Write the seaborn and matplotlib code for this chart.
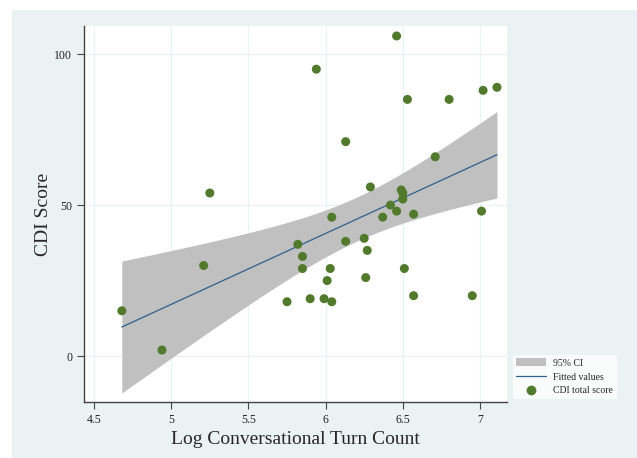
import numpy as np
import pandas as pd
import matplotlib
matplotlib.use("Agg")
import matplotlib.pyplot as plt
from matplotlib.patches import Rectangle, Patch
from matplotlib.lines import Line2D
import seaborn as sns

# data
log_turns = [4.68, 4.94, 5.21, 5.25, 5.75, 5.82, 5.85, 5.85, 5.90, 5.94,
             5.99, 6.01, 6.03, 6.04, 6.04, 6.13, 6.13, 6.25, 6.26, 6.27,
             6.29, 6.37, 6.42, 6.46, 6.46, 6.49, 6.50, 6.50, 6.51, 6.53,
             6.57, 6.57, 6.71, 6.80, 6.95, 7.01, 7.02, 7.11]
cdi_score = [15, 2, 30, 54, 18, 37, 33, 29, 19, 95,
             19, 25, 29, 18, 46, 71, 38, 39, 26, 35,
             56, 46, 50, 48, 106, 55, 54, 52, 29, 85,
             47, 20, 66, 85, 20, 48, 88, 89]
x_ticks = [4.5, 5, 5.5, 6, 6.5, 7]
x_tick_labels = ["4.5", "5", "5.5", "6", "6.5", "7"]
y_ticks = [0, 50, 100]

df = pd.DataFrame({"turns": log_turns, "cdi": cdi_score})

# linear fit with analytic 95% CI of the mean (like Stata lfitci)
x = df["turns"].values
y = df["cdi"].values
n = len(x)
b1, b0 = np.polyfit(x, y, 1)
resid = y - (b0 + b1 * x)
s = np.sqrt(np.sum(resid ** 2) / (n - 2))
xs = np.linspace(x.min(), x.max(), 200)
fit = b0 + b1 * xs
se = s * np.sqrt(1 / n + (xs - x.mean()) ** 2 / np.sum((x - x.mean()) ** 2))
t = 2.028  # t(0.975, 36)
lo, hi = fit - t * se, fit + t * se

sns.set_style("white")
plt.rcParams["font.family"] = ["Liberation Serif", "DejaVu Serif"]

bg = "#EAF2F3"
fig = plt.figure(figsize=(6.37, 4.58), dpi=100)
fig.patches.append(Rectangle((12 / 637, 0), 1 - 12 / 637, 1 - 10 / 458,
                             transform=fig.transFigure, facecolor=bg,
                             edgecolor="none", zorder=-10))
ax = fig.add_axes([84 / 637, 1 - 402 / 458, (507 - 84) / 637, (402 - 26) / 458])
ax.set_facecolor("white")

ax.fill_between(xs, lo, hi, color="#C0C0C0", linewidth=0, zorder=2)
sns.lineplot(x=xs, y=fit, ax=ax, color="#2E5F8E", linewidth=0.9, zorder=3)
sns.scatterplot(data=df, x="turns", y="cdi", ax=ax, color="#527A2C",
                s=42, edgecolor="none", zorder=4)

ax.set_xlim(4.435, 7.175)
ax.set_ylim(-15.2, 109.3)
ax.set_xticks(x_ticks)
ax.set_xticklabels(x_tick_labels)
ax.set_yticks(y_ticks)
ax.grid(True, color=bg, linewidth=0.9, zorder=0)
ax.set_axisbelow(True)
for side in ["top", "right"]:
    ax.spines[side].set_visible(False)
for side in ["left", "bottom"]:
    ax.spines[side].set_color("#444444")
    ax.spines[side].set_linewidth(1.0)
ax.tick_params(axis="both", direction="out", length=5, width=0.8,
               color="#444444", labelsize=8.5, labelcolor="#222222", left=True, bottom=True)
ax.set_xlabel("Log Conversational Turn Count", fontsize=14, labelpad=4)
ax.set_ylabel("CDI Score", fontsize=14, labelpad=1.5)

handles = [Patch(facecolor="#C0C0C0", edgecolor="none"),
           Line2D([], [], color="#2E5F8E", linewidth=0.9),
           Line2D([], [], marker="o", linestyle="none", color="#527A2C", markersize=6)]
leg = fig.legend(handles, ["95% CI", "Fitted values", "CDI total score"],
                 loc="upper left", bbox_to_anchor=(513 / 637, 1 - 355 / 458),
                 frameon=True, fontsize=7, handlelength=3.0, handleheight=0.9,
                 handletextpad=0.8, borderpad=0.35, labelspacing=0.45,
                 borderaxespad=0, fancybox=False)
leg.get_frame().set_facecolor("white")
leg.get_frame().set_edgecolor("none")

fig.savefig("out.png", dpi=100)
